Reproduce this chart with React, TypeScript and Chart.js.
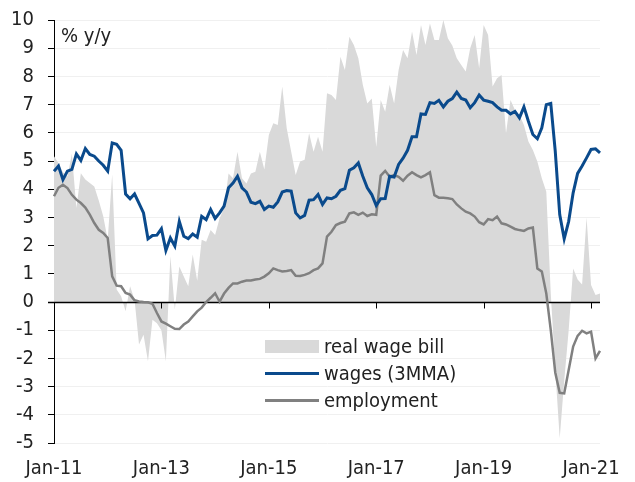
import React, { useEffect, useRef } from 'react';
import { Chart, registerables } from 'chart.js';

Chart.register(...registerables);

// ---------- data ----------
const monthNames = ['Jan', 'Feb', 'Mar', 'Apr', 'May', 'Jun', 'Jul', 'Aug', 'Sep', 'Oct', 'Nov', 'Dec'];
const firstYear = 2011;
const monthCount = 123; // Jan-11 .. Mar-21
const categories: string[] = [];
for (let i = 0; i < monthCount; i++) {
  const yr = firstYear + Math.floor(i / 12);
  categories.push(`${monthNames[i % 12]}-${String(yr).slice(2)}`);
}

const xTickLabels = ['Jan-11', 'Jan-13', 'Jan-15', 'Jan-17', 'Jan-19', 'Jan-21'];

const seriesNames = ['real wage bill', 'wages (3MMA)', 'employment'];
const seriesColors = ['#d9d9d9', '#0a4a8c', '#808080'];

const realWageBill = [
  5.17, 4.92, 4.6, 4.45, 5.26, 3.33, 4.57, 4.34, 4.22, 4.1,
  3.6, 3.04, 2.21, 4.52, 0.44, 0.2, -0.33, 0.56, 0.08, -1.51,
  -1.16, -2.1, -0.63, -0.75, -1.0, -2.1, 1.62, -0.27, 1.26, 0.9,
  0.56, 1.68, 0.75, 2.21, 2.14, 2.55, 2.38, 2.97, 3.32, 4.56,
  4.39, 5.33, 4.39, 4.2, 4.56, 4.62, 5.33, 4.7, 5.92, 6.34,
  6.28, 7.64, 6.16, 5.33, 4.5, 4.98, 5.04, 5.98, 5.33, 5.86,
  5.33, 7.4, 7.34, 7.16, 8.7, 8.23, 9.41, 9.11, 8.64, 7.7,
  7.04, 7.22, 5.5, 7.16, 6.75, 7.7, 7.04, 8.23, 8.94, 8.64,
  9.59, 8.76, 9.82, 9.11, 9.88, 9.29, 9.29, 10.0, 9.35, 9.1,
  8.64, 8.4, 8.17, 9.0, 9.47, 8.29, 9.82, 9.47, 7.64, 7.93,
  8.05, 5.98, 7.16, 6.81, 6.63, 6.28, 5.69, 5.39, 4.98, 4.39,
  3.91, 0.3, -2.4, -4.83, -2.8, -1.0, 1.19, 0.8, 0.62, 3.0,
  0.6, 0.25, 0.3,
];

const wages3mma = [
  4.64, 4.82, 4.34, 4.64, 4.7, 5.25, 5.02, 5.44, 5.23, 5.17,
  5.0, 4.85, 4.64, 5.64, 5.59, 5.38, 3.83, 3.66, 3.83, 3.5,
  3.16, 2.24, 2.36, 2.37, 2.6, 1.83, 2.27, 1.98, 2.86, 2.33,
  2.25, 2.41, 2.3, 3.04, 2.92, 3.28, 2.96, 3.16, 3.4, 4.05,
  4.22, 4.46, 4.05, 3.9, 3.54, 3.49, 3.57, 3.28, 3.4, 3.36,
  3.55, 3.9, 3.95, 3.93, 3.16, 2.98, 3.07, 3.61, 3.63, 3.81,
  3.46, 3.69, 3.66, 3.75, 3.96, 4.02, 4.67, 4.76, 4.93, 4.46,
  4.05, 3.81, 3.42, 3.66, 3.67, 4.46, 4.43, 4.88, 5.1, 5.38,
  5.86, 5.86, 6.67, 6.65, 7.07, 7.04, 7.15, 6.92, 7.12, 7.21,
  7.44, 7.22, 7.16, 6.89, 7.07, 7.34, 7.16, 7.12, 7.07, 6.92,
  6.8, 6.8, 6.67, 6.76, 6.53, 6.92, 6.41, 5.94, 5.79, 6.18,
  7.0, 7.04, 5.35, 3.1, 2.24, 2.86, 3.87, 4.56, 4.82, 5.11,
  5.41, 5.43, 5.29,
];

const employment = [
  3.75, 4.05, 4.16, 4.04, 3.8, 3.63, 3.51, 3.35, 3.1, 2.8,
  2.56, 2.45, 2.27, 0.91, 0.58, 0.56, 0.32, 0.26, 0.06, 0.02,
  0.0, -0.01, -0.06, -0.39, -0.69, -0.77, -0.86, -0.95, -0.96, -0.8,
  -0.69, -0.51, -0.33, -0.2, 0.0, 0.15, 0.31, 0.01, 0.3, 0.5,
  0.66, 0.66, 0.72, 0.76, 0.76, 0.8, 0.82, 0.9, 1.02, 1.19,
  1.13, 1.08, 1.1, 1.13, 0.93, 0.92, 0.96, 1.02, 1.13, 1.19,
  1.37, 2.32, 2.49, 2.73, 2.8, 2.85, 3.14, 3.18, 3.09, 3.17,
  3.05, 3.11, 3.09, 4.48, 4.65, 4.44, 4.5, 4.44, 4.3, 4.48,
  4.6, 4.5, 4.42, 4.5, 4.6, 3.79, 3.7, 3.7, 3.68, 3.65,
  3.46, 3.32, 3.2, 3.14, 3.03, 2.83, 2.75, 2.94, 2.9, 3.03,
  2.79, 2.75, 2.67, 2.59, 2.55, 2.52, 2.61, 2.64, 1.19, 1.08,
  0.3, -1.0, -2.5, -3.22, -3.24, -2.41, -1.58, -1.2, -1.02, -1.11,
  -1.05, -2.0, -1.73,
];

const yMin = -5;
const yMax = 10;
const unitLabel = '% y/y';

// ---------- style ----------
const FONT_FAMILY = "'DejaVu Sans Condensed', 'DejaVu Sans', sans-serif";
const TEXT_COLOR = '#222222';

const overlayPlugin = {
  id: 'overlay',
  afterDatasetDraw(chart: any, args: any) {
    if (args.index !== 0) return;
    const { ctx, chartArea, scales } = chart;
    const x = scales.x;
    const y = scales.y;
    const y0 = Math.round(y.getPixelForValue(0)) + 0.5;
    ctx.save();
    ctx.strokeStyle = '#000000';
    ctx.lineWidth = 1.3;
    ctx.beginPath();
    ctx.moveTo(chartArea.left - 6, y0);
    ctx.lineTo(chartArea.right, y0);
    ctx.stroke();
    ctx.lineWidth = 1;
    ctx.beginPath();
    xTickLabels.forEach((lab) => {
      const idx = categories.indexOf(lab);
      if (idx < 0) return;
      const px = Math.round(x.getPixelForValue(idx)) + 0.5;
      ctx.moveTo(px, y0);
      ctx.lineTo(px, y0 + 6);
    });
    ctx.stroke();
    ctx.restore();
  },
  afterDraw(chart: any) {
    const { ctx, chartArea } = chart;
    ctx.save();
    ctx.font = `20px ${FONT_FAMILY}`;
    ctx.fillStyle = TEXT_COLOR;
    ctx.textBaseline = 'alphabetic';
    ctx.textAlign = 'left';
    ctx.fillText(unitLabel, chartArea.left + 7, chartArea.top + 22);
    ctx.restore();
  },
};

export default function App() {
  const canvasRef = useRef<HTMLCanvasElement | null>(null);

  useEffect(() => {
    if (!canvasRef.current) return;
    const chart = new Chart(canvasRef.current, {
      type: 'line',
      data: {
        labels: categories,
        datasets: [
          {
            label: seriesNames[0],
            data: realWageBill,
            fill: 'origin',
            backgroundColor: seriesColors[0],
            borderWidth: 0,
            borderColor: 'rgba(0,0,0,0)',
            pointRadius: 0,
            tension: 0,
            order: 3,
          },
          {
            label: seriesNames[1],
            data: wages3mma,
            fill: false,
            borderColor: seriesColors[1],
            borderWidth: 3,
            pointRadius: 0,
            tension: 0,
            order: 1,
          },
          {
            label: seriesNames[2],
            data: employment,
            fill: false,
            borderColor: seriesColors[2],
            borderWidth: 2.5,
            pointRadius: 0,
            tension: 0,
            order: 2,
          },
        ],
      },
      options: {
        responsive: false,
        animation: false,
        devicePixelRatio: 1,
        layout: { padding: { top: 20, right: 35, left: 0, bottom: 0 } },
        plugins: {
          legend: { display: false },
          tooltip: { enabled: false },
        },
        scales: {
          x: {
            type: 'category',
            offset: false,
            grid: { display: false, drawTicks: false },
            border: { display: false },
            ticks: {
              autoSkip: false,
              maxRotation: 0,
              minRotation: 0,
              padding: 14,
              color: TEXT_COLOR,
              font: { family: FONT_FAMILY, size: 20 },
              callback: (_v: any, i: number) =>
                xTickLabels.includes(categories[i]) ? categories[i] : '',
            },
            afterFit: (scale: any) => {
              scale.height = 39;
              scale.paddingLeft = 0;
              scale.paddingRight = 0;
            },
          },
          y: {
            min: yMin,
            max: yMax,
            grid: {
              color: (c: any) => (c.tick && c.tick.value === 0 ? 'rgba(0,0,0,0)' : '#f0f0f0'),
              lineWidth: 1,
              tickColor: '#000000',
              tickLength: 6,
              drawTicks: true,
            },
            border: { display: true, color: '#000000', width: 1 },
            ticks: {
              stepSize: 1,
              padding: 14,
              color: TEXT_COLOR,
              font: { family: FONT_FAMILY, size: 20 },
            },
            afterFit: (scale: any) => {
              scale.width = 54;
              scale.paddingTop = 0;
              scale.paddingBottom = 0;
            },
          },
        },
      },
      plugins: [overlayPlugin],
    });
    return () => chart.destroy();
  }, []);

  const legendRows = [
    { name: seriesNames[0], color: seriesColors[0], kind: 'box' },
    { name: seriesNames[1], color: seriesColors[1], kind: 'line' },
    { name: seriesNames[2], color: seriesColors[2], kind: 'line' },
  ];

  return (
    <div style={{ position: 'fixed', left: 0, top: 0, width: 635, height: 482, background: '#ffffff' }}>
      <canvas ref={canvasRef} width={635} height={482} style={{ display: 'block' }} />
      <div
        style={{
          position: 'absolute',
          left: 265,
          top: 333,
          fontFamily: FONT_FAMILY,
          fontSize: 20,
          color: TEXT_COLOR,
          lineHeight: '27px',
        }}
      >
        {legendRows.map((r) => (
          <div key={r.name} style={{ display: 'flex', alignItems: 'center', height: 27, whiteSpace: 'nowrap' }}>
            <div
              style={{
                width: 54,
                height: r.kind === 'box' ? 13 : r.name === seriesNames[1] ? 3 : 2.5,
                background: r.color,
                marginRight: 5,
                flex: '0 0 auto',
              }}
            />
            <span>{r.name}</span>
          </div>
        ))}
      </div>
    </div>
  );
}
